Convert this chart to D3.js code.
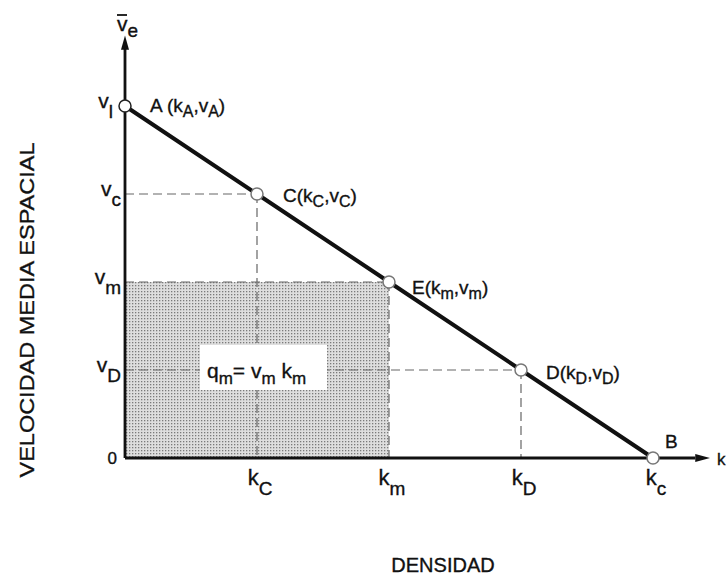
<!DOCTYPE html>
<html>
<head>
<meta charset="utf-8">
<script src="https://cdn.jsdelivr.net/npm/d3@7"></script>
<style>
  body { margin: 0; background: #fff; }
  svg { display: block; font-family: "Liberation Sans", Arial, sans-serif; }
  text { stroke: #111; stroke-width: 0.35px; }
</style>
</head>
<body>
<div id="chart"></div>
<script>
// puntos de la relación velocidad-densidad (modelo lineal, unidades relativas)
const pointNames = ["A", "C", "E", "D", "B"];
const densities = [0, 0.25, 0.5, 0.75, 1];
const speeds = [1, 0.75, 0.5, 0.25, 0];

// etiquetas de los puntos: [texto, subíndice?]
const pointLabels = [
    [["A (k", false], ["A", true], [",v", false], ["A", true], [")", false]],
    [["C(k", false], ["C", true], [",v", false], ["C", true], [")", false]],
    [["E(k", false], ["m", true], [",v", false], ["m", true], [")", false]],
    [["D(k", false], ["D", true], [",v", false], ["D", true], [")", false]],
    [["B", false]]
];

// etiquetas de los ejes
const yTickValues = [1, 0.75, 0.5, 0.25, 0];
const yTickLabels = [["v", "l"], ["v", "c"], ["v", "m"], ["v", "D"], ["0", ""]];
const xTickValues = [0.25, 0.5, 0.75, 1];
const xTickLabels = [["k", "C"], ["k", "m"], ["k", "D"], ["k", "c"]];

const width = 728, height = 575;

const svg = d3.select("#chart")
    .append("svg")
    .attr("width", width)
    .attr("height", height);

const x = d3.scaleLinear().domain([0, 1]).range([125, 653]);
const y = d3.scaleLinear().domain([0, 1]).range([458, 106]);

const defs = svg.append("defs");
const pat = defs.append("pattern")
    .attr("id", "dots")
    .attr("width", 3).attr("height", 3)
    .attr("patternUnits", "userSpaceOnUse");
pat.append("rect").attr("width", 3).attr("height", 3).attr("fill", "#dedede");
pat.append("rect").attr("width", 1.3).attr("height", 1.3).attr("fill", "#7a7a7a");

// área sombreada q = v_m * k_m
const iE = pointNames.indexOf("E");
svg.append("rect")
    .attr("x", x(0))
    .attr("y", y(speeds[iE]))
    .attr("width", x(densities[iE]) - x(0))
    .attr("height", y(0) - y(speeds[iE]))
    .attr("fill", "url(#dots)");

// líneas de trazos
const dashed = svg.append("g")
    .attr("stroke", "#666")
    .attr("stroke-width", 1.2)
    .attr("stroke-dasharray", "9,5")
    .attr("fill", "none");

["C", "E", "D"].forEach(name => {
    const i = pointNames.indexOf(name);
    dashed.append("line")
        .attr("x1", x(0)).attr("y1", y(speeds[i]))
        .attr("x2", x(densities[i])).attr("y2", y(speeds[i]));
    dashed.append("line")
        .attr("x1", x(densities[i])).attr("y1", y(speeds[i]))
        .attr("x2", x(densities[i])).attr("y2", y(0));
});

// caja de q_m
svg.append("rect")
    .attr("x", 200).attr("y", 345)
    .attr("width", 127).attr("height", 45)
    .attr("fill", "#fff");

function richText(parent, px, py, parts, opts) {
    const t = parent.append("text")
        .attr("x", px).attr("y", py)
        .attr("font-size", opts.size)
        .attr("text-anchor", opts.anchor || "start")
        .attr("fill", "#111");
    let shifted = false;
    parts.forEach(([txt, sub]) => {
        if (!txt) return;
        const ts = t.append("tspan").text(txt);
        if (sub && !shifted) { ts.attr("dy", opts.subDy); shifted = true; }
        else if (!sub && shifted) { ts.attr("dy", -opts.subDy); shifted = false; }
        if (sub) ts.attr("font-size", opts.subSize);
    });
    return t;
}

richText(svg, 207, 378,
    [["q", false], ["m", true], ["= v", false], ["m", true], [" k", false], ["m", true]],
    { size: 21, subSize: 17, subDy: 6 });

// ejes
const axis = svg.append("g").attr("stroke", "#111").attr("stroke-width", 2.8);
axis.append("line")
    .attr("x1", x(0)).attr("y1", y(0))
    .attr("x2", x(1.08)).attr("y2", y(0));
axis.append("line")
    .attr("x1", x(0)).attr("y1", y(0))
    .attr("x2", x(0)).attr("y2", y(1.17));

svg.append("path")
    .attr("d", `M${x(1.108)},${y(0)} L${x(1.08)},${y(0) - 4} L${x(1.08)},${y(0) + 4} Z`)
    .attr("fill", "#111");
svg.append("path")
    .attr("d", `M${x(0)},${y(1.2)} L${x(0) - 4},${y(1.16)} L${x(0) + 4},${y(1.16)} Z`)
    .attr("fill", "#111");

// recta velocidad-densidad
svg.append("path")
    .datum(densities.map((d, i) => [d, speeds[i]]))
    .attr("d", d3.line().x(d => x(d[0])).y(d => y(d[1])))
    .attr("fill", "none")
    .attr("stroke", "#111")
    .attr("stroke-width", 4);

// puntos
svg.append("g").selectAll("circle")
    .data(pointNames)
    .join("circle")
    .attr("cx", (d, i) => x(densities[i]))
    .attr("cy", (d, i) => y(speeds[i]))
    .attr("r", 6)
    .attr("fill", "#fff")
    .attr("stroke", (d, i) => i === 0 ? "#222" : "#777")
    .attr("stroke-width", 1.5);

// etiquetas de los puntos
const labelOffsets = [[25, 6], [26, 8], [23, 12], [25, 9], [12, -10]];
pointLabels.forEach((parts, i) => {
    richText(svg, x(densities[i]) + labelOffsets[i][0], y(speeds[i]) + labelOffsets[i][1],
        parts, { size: 19, subSize: 16, subDy: 5 });
});

// marcas del eje y
yTickValues.forEach((v, i) => {
    const [main, sub] = yTickLabels[i];
    if (!sub) {
        richText(svg, x(0) - 8, y(v) + 6, [[main, false]], { size: 17, anchor: "end" });
    } else {
        const dx = i === 0 ? 12 : 4;
        richText(svg, x(0) - dx, y(v) + 2, [[main, false], [sub, true]],
            { size: 21, subSize: 19, subDy: 10, anchor: "end" });
    }
});

// marcas del eje x
xTickValues.forEach((v, i) => {
    const [main, sub] = xTickLabels[i];
    richText(svg, x(v) + 3, y(0) + 27, [[main, false], [sub, true]],
        { size: 22, subSize: 19, subDy: 10, anchor: "middle" });
});

// etiquetas de los ejes
const vLab = svg.append("text")
    .attr("x", 117).attr("y", 31)
    .attr("font-size", 21)
    .attr("fill", "#111");
vLab.append("tspan").text("v");
vLab.append("tspan").attr("dy", 6).attr("font-size", 19).text("e");
svg.append("line")
    .attr("x1", 117).attr("y1", 15).attr("x2", 127).attr("y2", 15)
    .attr("stroke", "#111").attr("stroke-width", 1.8);

svg.append("text")
    .attr("x", 717).attr("y", 465)
    .attr("font-size", 17)
    .attr("fill", "#111")
    .text("k");

svg.append("text")
    .attr("transform", "translate(34,310) rotate(-90)")
    .attr("text-anchor", "middle")
    .attr("font-size", 21)
    .attr("textLength", 335)
    .attr("lengthAdjust", "spacingAndGlyphs")
    .attr("fill", "#111")
    .text("VELOCIDAD MEDIA ESPACIAL");

svg.append("text")
    .attr("x", 443).attr("y", 572)
    .attr("text-anchor", "middle")
    .attr("font-size", 20)
    .attr("fill", "#111")
    .text("DENSIDAD");
</script>
</body>
</html>
